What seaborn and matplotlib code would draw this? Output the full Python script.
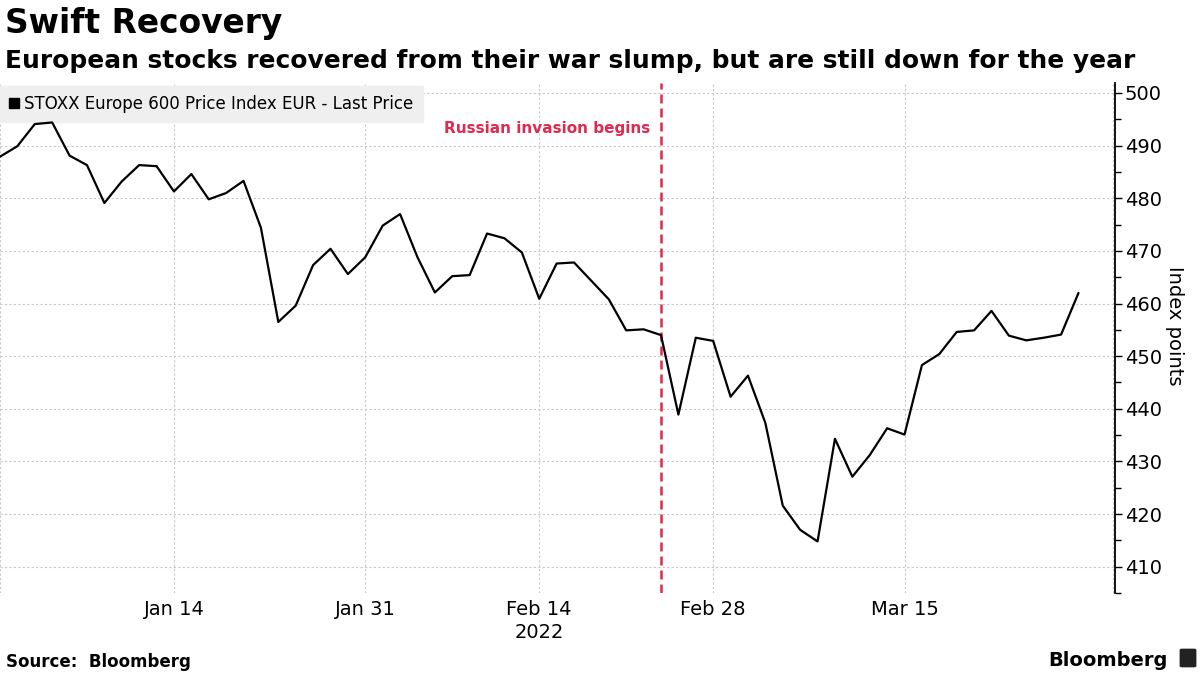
import numpy as np
import pandas as pd
import matplotlib
matplotlib.use("Agg")
import matplotlib.pyplot as plt
from matplotlib.patches import Patch, FancyBboxPatch
import seaborn as sns

# STOXX Europe 600, daily closes (Dec 31 2021 -> Mar 29 2022)
start_day = "2021-12-31"
end_day = "2022-03-29"
closes = [487.9, 489.9, 494.1, 494.4, 488.1, 486.3, 479.1, 483.2, 486.3, 486.1,
          481.3, 484.6, 479.8, 481.0, 483.3, 474.4, 456.5, 459.6, 467.3, 470.4,
          465.6, 468.8, 474.8, 477.0, 468.8, 462.1, 465.2, 465.4, 473.3, 472.4,
          469.7, 460.9, 467.6, 467.8, 464.3, 460.8, 454.9, 455.1, 454.0, 438.9,
          453.5, 452.9, 442.3, 446.3, 437.3, 421.6, 417.0, 414.8, 434.3, 427.1,
          431.2, 436.3, 435.1, 448.3, 450.4, 454.6, 454.9, 458.6, 453.9, 453.0,
          453.5, 454.1, 462.0]
axis_end = "2022-03-31"
tick_days = ["2021-12-31", "2022-01-14", "2022-01-31", "2022-02-14",
             "2022-02-28", "2022-03-15", "2022-03-31"]
tick_labels = ["", "Jan 14", "Jan 31", "Feb 14", "Feb 28", "Mar 15", ""]
year_label = "2022"
invasion_day = "2022-02-24"
series_name = "STOXX Europe 600 Price Index EUR - Last Price"

# trading-day axis (no weekend gaps), like the terminal chart
days = pd.bdate_range(start_day, axis_end)
trade_days = pd.bdate_range(start_day, end_day)
df = pd.DataFrame({"day": trade_days, "close": closes})
df["pos"] = days.get_indexer(df["day"])

sns.set_style("white")
plt.rcParams["font.family"] = ["DejaVu Sans"]
plt.rcParams["text.color"] = "black"
plt.rcParams["axes.labelcolor"] = "black"
plt.rcParams["xtick.color"] = "black"
plt.rcParams["ytick.color"] = "black"

fig = plt.figure(figsize=(12, 6.75), dpi=100)
ax = fig.add_axes([0.0, (675 - 593) / 675, 1115 / 1200, 510 / 675])

grid_kw = dict(color="#c8c8c8", linewidth=0.8, linestyle=(0, (2, 2)))
sns.lineplot(data=df, x="pos", y="close", color="black", linewidth=1.6, ax=ax,
             label=series_name, legend=False, zorder=4)

ax.set_xlim(0, len(days) - 1 + 0.1)
ax.set_ylim(407.5, 501.9)

tick_pos = days.get_indexer(pd.to_datetime(tick_days))
ax.set_xticks(tick_pos)
ax.set_xticklabels(tick_labels)
ax.tick_params(axis="x", length=0, pad=5, labelsize=14)
ax.set_yticks(np.arange(410, 501, 10))
ax.set_yticks(np.arange(405, 501, 5), minor=True)
ax.yaxis.tick_right()
ax.tick_params(axis="y", which="major", direction="out", length=5, width=1,
               pad=2, labelsize=14)
ax.tick_params(axis="y", which="minor", direction="out", length=4, width=1)
ax.grid(True, which="major", **grid_kw)

for side in ["left", "top", "bottom"]:
    ax.spines[side].set_visible(False)
ax.spines["right"].set_visible(True)
ax.spines["right"].set_color("black")
ax.spines["right"].set_linewidth(1.3)

ax.set_xlabel("")
ax.set_ylabel("Index points", fontsize=14, rotation=270)
ax.yaxis.set_label_position("right")
ax.yaxis.set_label_coords(1.062, 0.525)

# year under the Feb 14 tick
ax.text(tick_pos[3], -0.078, year_label, transform=ax.get_xaxis_transform(),
        ha="center", va="center", fontsize=14)

# invasion marker: last close before Feb 24
inv_pos = days.searchsorted(pd.Timestamp(invasion_day)) - 1
red = "#de2a4e"
ax.axvline(inv_pos, color=red, linewidth=1.8, linestyle=(0, (3.6, 2.0)), zorder=3)
ax.text(inv_pos - 0.6, 0.91, "Russian invasion begins", transform=ax.get_xaxis_transform(),
        ha="right", va="center", color=red, fontsize=11, fontweight="bold")

leg = ax.legend(handles=[Patch(facecolor="black", edgecolor="black")], labels=[series_name],
                loc="upper left", bbox_to_anchor=(0.0, 0.995), frameon=True,
                fancybox=False, facecolor="#efefef", edgecolor="#efefef", framealpha=1,
                fontsize=12, handlelength=0.6, handleheight=0.6, handletextpad=0.3,
                borderpad=0.55, borderaxespad=0.0)
leg.set_zorder(2.5)

fig.text(0.004, 0.965, "Swift Recovery", fontsize=23.7, fontweight="bold", va="center")
fig.text(0.004, 0.910, "European stocks recovered from their war slump, but are still down for the year",
         fontsize=17.9, fontweight="bold", va="center")
fig.text(0.005, 0.019, "Source:  Bloomberg", fontsize=12, fontweight="bold", va="center")
fig.text(0.973, 0.021, "Bloomberg", fontsize=14, fontweight="bold", va="center", ha="right")
fig.patches.append(FancyBboxPatch((1182 / 1200, 9 / 675), 12 / 1200, 16 / 675,
                                  boxstyle="round,pad=0.002", transform=fig.transFigure,
                                  facecolor="#222222", edgecolor="none"))

fig.savefig("out.png", dpi=100)
